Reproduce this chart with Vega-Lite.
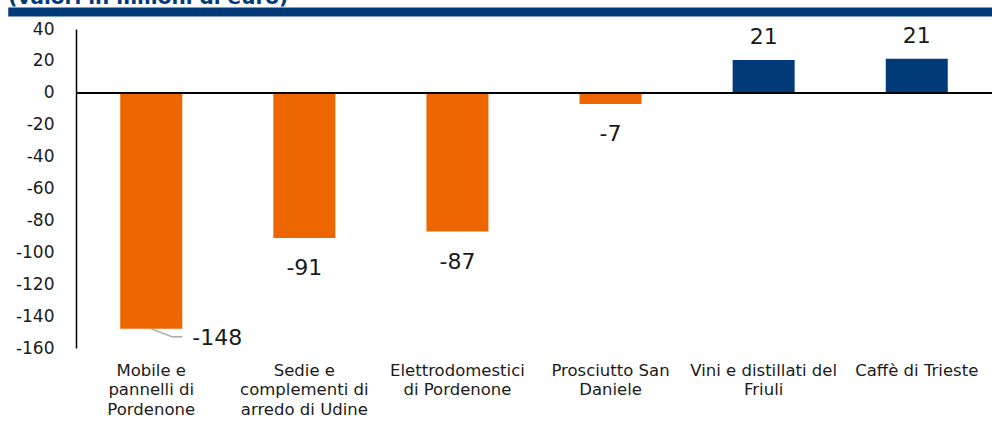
{
  "$schema": "https://vega.github.io/schema/vega-lite/v6.json",
  "width": 916,
  "height": 319,
  "autosize": {"type": "none"},
  "padding": {"left": 76, "top": 29, "right": 0, "bottom": 80},
  "background": "white",
  "config": {
    "view": {"stroke": null},
    "font": "DejaVu Sans",
    "axisY": {"labelOverlap": false, "labelBound": false, "labelFlush": false, "tickCount": 11},
    "axisX": {"labelOverlap": false, "labelBound": false, "labelFlush": false}
  },
  "data": {
    "values": [
      {"cat": "Mobile e pannelli di Pordenone", "value": -148, "label": "-148", "sign": "neg"},
      {"cat": "Sedie e complementi di arredo di Udine", "value": -91, "label": "-91", "sign": "neg"},
      {"cat": "Elettrodomestici di Pordenone", "value": -87, "label": "-87", "sign": "neg"},
      {"cat": "Prosciutto San Daniele", "value": -7, "label": "-7", "sign": "neg"},
      {"cat": "Vini e distillati del Friuli", "value": 20.6, "label": "21", "sign": "pos"},
      {"cat": "Caffè di Trieste", "value": 21.4, "label": "21", "sign": "pos"}
    ]
  },
  "encoding": {
    "x": {
      "field": "cat",
      "type": "nominal",
      "sort": null,
      "scale": {"paddingInner": 0.595, "paddingOuter": 0.289},
      "axis": {
        "title": null,
        "orient": "bottom",
        "domain": false,
        "ticks": false,
        "labelAngle": 0,
        "labelPadding": 14,
        "labelFontSize": 16.5,
        "labelColor": "#1a1a1a",
        "labelLineHeight": 19.5,
        "labelBaseline": "top",
        "labelLimit": 300,
        "labelExpr": "datum.value == 'Mobile e pannelli di Pordenone' ? ['Mobile e','pannelli di','Pordenone'] : datum.value == 'Sedie e complementi di arredo di Udine' ? ['Sedie e','complementi di','arredo di Udine'] : datum.value == 'Elettrodomestici di Pordenone' ? ['Elettrodomestici','di Pordenone'] : datum.value == 'Prosciutto San Daniele' ? ['Prosciutto San','Daniele'] : datum.value == 'Vini e distillati del Friuli' ? ['Vini e distillati del','Friuli'] : datum.value"
      }
    },
    "y": {
      "field": "value",
      "type": "quantitative",
      "scale": {"domain": [-160, 40], "nice": false, "zero": false},
      "axis": {
        "title": null,
        "values": [-160, -140, -120, -100, -80, -60, -40, -20, 0, 20, 40],
        "grid": false,
        "ticks": false,
        "domainColor": "#000000",
        "domainWidth": 1.5,
        "labelPadding": 22,
        "labelFontSize": 17,
        "labelColor": "#1a1a1a",
        "labelOverlap": false,
        "labelExpr": "'' + datum.value"
      }
    }
  },
  "layer": [
    {
      "mark": {"type": "bar"},
      "encoding": {
        "color": {
          "field": "sign",
          "type": "nominal",
          "scale": {"domain": ["neg", "pos"], "range": ["#EE6600", "#003A78"]},
          "legend": null
        }
      }
    },
    {
      "mark": {"type": "rule", "color": "#000000", "strokeWidth": 1.5},
      "encoding": {"x": null, "y": {"datum": 0}}
    },
    {
      "transform": [{"filter": "datum.value < 0 && datum.value > -140"}],
      "mark": {"type": "text", "fontSize": 22, "color": "#1a1a1a", "baseline": "middle", "dy": 30},
      "encoding": {"text": {"field": "label"}}
    },
    {
      "transform": [{"filter": "datum.value > 0"}],
      "mark": {"type": "text", "fontSize": 22, "color": "#1a1a1a", "baseline": "middle", "dy": -23},
      "encoding": {"text": {"field": "label"}}
    },
    {
      "transform": [{"filter": "datum.value < -140"}],
      "mark": {"type": "text", "fontSize": 22, "color": "#1a1a1a", "baseline": "middle", "align": "left", "dx": 41, "dy": 9},
      "encoding": {"text": {"field": "label"}}
    },
    {
      "data": {"values": [{"cat": "Mobile e pannelli di Pordenone", "y1": -148, "y2": -153}]},
      "mark": {"type": "rule", "color": "#A6A6A6", "strokeWidth": 1.5, "x2Offset": 21},
      "encoding": {"x2": {"field": "cat"}, "y": {"field": "y1", "type": "quantitative"}, "y2": {"field": "y2"}}
    },
    {
      "data": {"values": [{"cat": "Mobile e pannelli di Pordenone", "y2": -153}]},
      "mark": {"type": "rule", "color": "#A6A6A6", "strokeWidth": 1.5, "xOffset": 21, "x2Offset": 31},
      "encoding": {"x2": {"field": "cat"}, "y": {"field": "y2", "type": "quantitative"}}
    },
    {
      "data": {"values": [{"a": "Mobile e pannelli di Pordenone", "b": "Caffè di Trieste", "v": 50.6}]},
      "mark": {"type": "rule", "color": "#003A78", "strokeWidth": 9, "xOffset": -143, "x2Offset": 76},
      "encoding": {"x": {"field": "a"}, "x2": {"field": "b"}, "y": {"field": "v", "type": "quantitative"}}
    },
    {
      "data": {"values": [{"t": "(valori in milioni di euro)", "a": "Mobile e pannelli di Pordenone", "v": 55.8}]},
      "mark": {"type": "text", "fontSize": 20, "fontWeight": "bold", "color": "#003A78", "align": "left", "baseline": "alphabetic", "dx": -143},
      "encoding": {"x": {"field": "a"}, "y": {"field": "v", "type": "quantitative"}, "text": {"field": "t"}}
    }
  ]
}
